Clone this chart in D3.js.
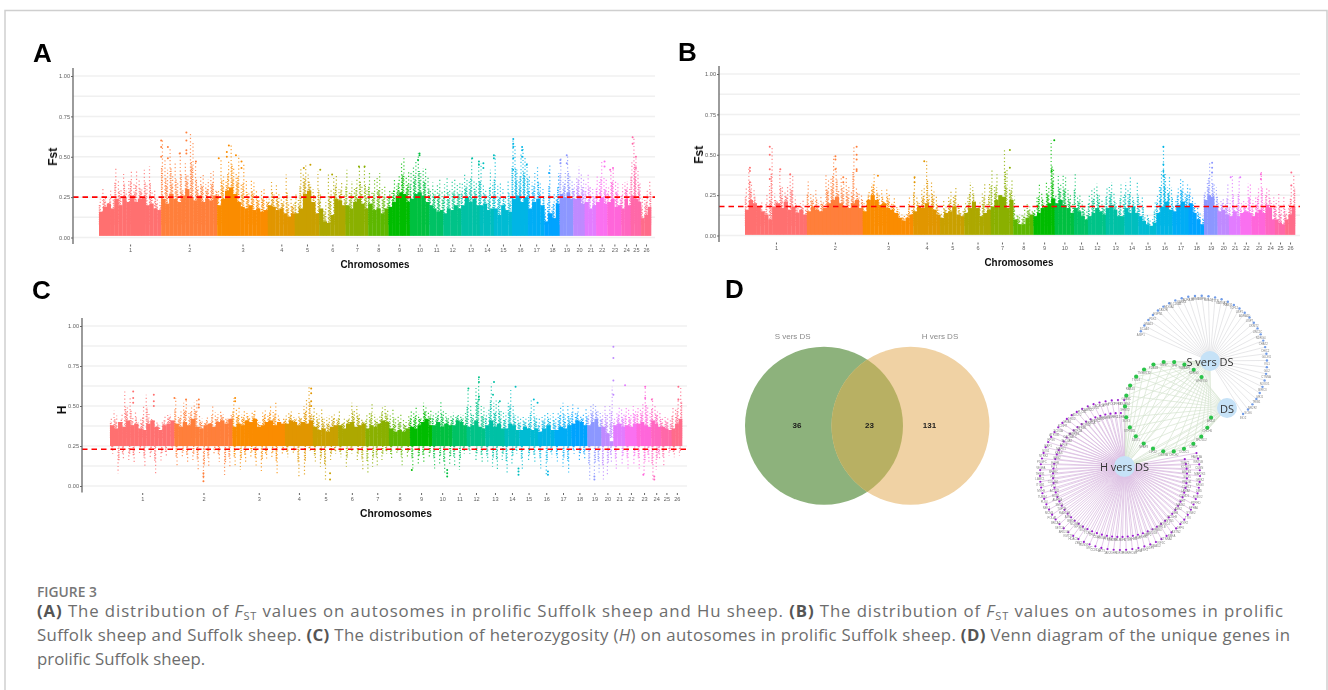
<!DOCTYPE html>
<html>
<head>
<meta charset="utf-8">
<title>Figure 3</title>
<script src="https://cdnjs.cloudflare.com/ajax/libs/d3/7.8.5/d3.min.js"></script>
<style>
  html, body { margin: 0; padding: 0; background: #fff; }
  svg { display: block; }
  text { font-family: "Liberation Sans", Arial, sans-serif; }
  .axis text { fill: #5f5f5f; font-size: 5.6px; }
  .axis line, .axis path { stroke: #666; }
  .caption { font-family: "Open Sans", sans-serif; font-size: 16.8px; fill: #6d6d6d; }
</style>
</head>
<body>
<svg id="chart" width="1328" height="690"></svg>
<script>
const chromosomes = d3.range(1, 27).map(String);
// sheep autosome lengths, Mb
const chromLengths = [275, 248, 224, 119, 108, 117, 100, 90, 94, 86, 62, 79, 83, 62, 80, 71, 72, 68, 60, 51, 50, 50, 62, 42, 45, 44];
const chromColors = ['#FF7070', '#FF7F3A', '#FA8C00', '#E19600', '#C9A000', '#ADA800', '#8AB000', '#5DB700', '#00BC00', '#00C040', '#00C265', '#00C388', '#00C1A5', '#00BEBE', '#00BBD3', '#00B5E5', '#00ADF5', '#00A3FF', '#8C97FF', '#BF8AFF', '#E27CFF', '#FA70F0', '#FF66DA', '#FF66C0', '#FF68A8', '#FF6C8A'];
const yTicks = [0, 25, 50, 75, 100];
const yGrid = [0, 12.5, 25, 37.5, 50, 62.5, 75, 87.5, 100];

// all values below are in hundredths (0.25 -> 25)
// solid part of the band, per chromosome
const bandA = [
  [16, 19, 21, 18, 24, 20, 25, 22, 26, 22, 24, 25, 20, 21, 18, 17],
  [24, 21, 27, 24, 22, 26, 30, 25, 23, 26, 22, 24, 23, 26],
  [20, 24, 29, 31, 27, 22, 19, 18, 20, 17, 18, 16, 17],
  [20, 19, 17, 18, 15, 13, 15], [15, 18, 27, 29, 22, 15], [18, 10, 9, 14, 24, 23, 20],
  [20, 18, 22, 24, 21, 18], [21, 17, 18, 15, 18], [19, 22, 26, 28, 27, 22],
  [24, 27, 28, 26, 22], [20, 18, 16, 17], [15, 18, 17, 20, 18], [20, 25, 22, 24, 20],
  [20, 21, 17, 18], [18, 14, 20, 17, 16], [24, 26, 22, 25], [18, 22, 24, 20],
  [10, 15, 12, 21], [27, 25, 28, 24], [24, 26, 21], [22, 18, 20], [22, 25, 21],
  [22, 24, 19, 20], [18, 24, 20], [26, 24, 22], [12, 14, 19]
];
const bandB = [
  [16, 22, 20, 18, 15, 13, 10, 18, 20, 17, 21, 16, 18, 14, 16, 13],
  [15, 18, 16, 15, 17, 20, 22, 24, 20, 18, 17, 20, 22, 17],
  [15, 22, 25, 22, 19, 20, 17, 16, 14, 11, 9, 11, 13],
  [15, 18, 17, 20, 18, 16, 13], [11, 14, 15, 18, 13, 12], [14, 17, 21, 17, 12, 14, 16],
  [18, 22, 25, 24, 17, 22], [10, 7, 7, 11, 13], [12, 14, 17, 18, 20, 23],
  [20, 22, 19, 17, 14], [17, 15, 12, 10], [12, 14, 17, 15, 13], [17, 19, 16, 12, 12],
  [17, 14, 18, 14], [12, 9, 7, 6, 8], [14, 18, 21, 16], [15, 19, 21, 18],
  [20, 14, 10, 7], [22, 25, 24, 18], [15, 16, 13], [12, 15, 12], [14, 15, 14],
  [12, 14, 16, 14], [19, 17, 10], [10, 8, 7], [10, 13, 18]
];
const bandC = [
  [38, 36, 40, 37, 41, 38, 39, 36, 35, 39, 41, 37, 35, 38, 39, 41],
  [39, 37, 40, 38, 42, 37, 36, 38, 39, 37, 40, 41, 39, 42],
  [37, 39, 38, 41, 40, 42, 37, 38, 40, 41, 38, 40, 39],
  [39, 41, 40, 38, 40, 39, 41], [37, 35, 36, 34, 37, 38], [38, 36, 39, 40, 37, 38, 39],
  [36, 38, 37, 39, 41, 40], [36, 34, 35, 34, 36], [37, 36, 38, 40, 42, 38],
  [38, 40, 37, 39, 38], [38, 41, 40, 38], [37, 38, 41, 37, 36], [38, 41, 37, 39, 36],
  [36, 39, 38, 35], [35, 37, 36, 35, 36], [34, 36, 38, 35], [35, 37, 36, 38],
  [39, 41, 40, 38], [38, 40, 42, 37], [37, 33, 28], [38, 39, 37], [38, 37, 39],
  [39, 40, 38, 37], [41, 39, 37], [37, 36, 35], [36, 39, 42]
];

// tallest dot in a stretch of the chromosome, left to right
const columnsA = [
  [24, 31, 26, 22, 29, 27, 43, 36, 30, 40, 29, 35, 42, 33, 42, 36, 31, 42, 33, 44, 28, 30, 25, 22],
  [60, 48, 42, 56, 38, 46, 35, 53, 30, 46, 39, 65, 60, 47, 33, 38, 40, 33, 36, 40, 41, 30],
  [30, 49, 38, 35, 48, 57, 44, 40, 51, 34, 46, 36, 28, 36, 34, 29, 26, 30, 30, 24],
  [24, 35, 28, 33, 27, 24, 26, 39, 22, 24, 22],
  [28, 24, 43, 40, 45, 39, 33, 30, 26, 41],
  [27, 18, 22, 39, 30, 38, 39, 30, 35, 26],
  [42, 28, 35, 30, 36, 44, 32, 45, 30],
  [40, 28, 36, 38, 40, 30, 32, 24],
  [30, 28, 36, 32, 39, 47, 49, 38, 42],
  [40, 44, 48, 52, 40, 43, 44, 37],
  [30, 34, 30, 33, 36, 28],
  [33, 37, 29, 35, 36, 33, 34],
  [34, 39, 37, 36, 49, 36, 34, 47],
  [46, 33, 30, 27, 42, 34],
  [51, 32, 34, 30, 25, 36, 25],
  [60, 58, 42, 35, 52, 56, 50, 46],
  [39, 34, 40, 44, 35, 30],
  [18, 22, 46, 20, 28, 26, 40],
  [50, 36, 40, 51, 38, 36],
  [33, 38, 44, 40, 36],
  [34, 39, 32, 30, 26],
  [38, 35, 47, 38, 36],
  [32, 42, 43, 36, 34, 27],
  [33, 34, 35, 30],
  [48, 62, 50, 42, 34],
  [24, 25, 30, 36]
];
const columnsB = [
  [30, 42, 33, 28, 20, 18, 22, 16, 26, 31, 55, 26, 22, 41, 30, 28, 30, 38, 38, 24, 18, 20, 22, 17],
  [35, 27, 25, 28, 20, 25, 22, 38, 34, 36, 49, 43, 28, 37, 32, 36, 30, 28, 55, 30, 27, 26],
  [20, 22, 28, 32, 38, 30, 25, 28, 22, 30, 26, 20, 24, 18, 16, 13, 12, 14, 25, 18],
  [36, 25, 20, 28, 31, 46, 26, 33, 28, 25, 16],
  [15, 22, 18, 24, 28, 25, 31, 20, 15, 16],
  [20, 25, 33, 30, 20, 18, 22, 26, 32, 20, 32],
  [41, 30, 38, 25, 24, 53, 41, 30, 34],
  [24, 14, 13, 13, 17, 20, 18, 16],
  [16, 24, 32, 27, 20, 33, 30, 59, 42],
  [26, 37, 32, 37, 36, 28, 26, 20],
  [38, 25, 26, 22, 18, 15],
  [26, 28, 30, 32, 26, 22, 20],
  [30, 30, 33, 26, 20, 18, 32, 24],
  [33, 28, 36, 25, 20, 34],
  [20, 25, 12, 14, 10, 10, 21],
  [26, 30, 40, 55, 38, 30, 36, 30],
  [18, 22, 30, 35, 34, 26, 32],
  [30, 24, 20, 18, 15, 12],
  [28, 34, 45, 40, 32, 30],
  [20, 22, 24, 20, 32],
  [22, 37, 18, 20, 37],
  [20, 22, 20, 32, 32],
  [22, 24, 30, 40, 20],
  [30, 28, 20, 25],
  [22, 26, 18, 24],
  [15, 20, 32, 38]
];
const columnsC = [
  [42, 47, 44, 40, 45, 59, 50, 55, 44, 46, 40, 42, 50, 57, 45, 42, 41, 40, 38, 40, 44, 46, 45, 40],
  [55, 44, 48, 52, 54, 46, 50, 52, 54, 45, 42, 40, 44, 41, 50, 46, 45, 47, 45, 43, 42, 45],
  [55, 48, 49, 45, 48, 46, 44, 46, 48, 42, 40, 46, 48, 44, 51, 47, 52, 44, 40, 42],
  [44, 46, 48, 43, 42, 47, 43, 50, 54, 62, 46],
  [50, 46, 44, 48, 42, 43, 44, 44, 46, 42],
  [47, 40, 42, 42, 44, 52, 48, 50, 46, 42, 40],
  [45, 46, 52, 45, 42, 44, 50, 50, 47],
  [44, 48, 42, 44, 45, 42, 40, 44],
  [47, 46, 50, 45, 43, 52, 50, 46, 48],
  [46, 46, 47, 53, 48, 46, 44, 45],
  [46, 44, 46, 45, 44, 46],
  [60, 50, 46, 62, 68, 50, 50],
  [46, 49, 64, 52, 54, 53, 48, 46],
  [46, 52, 60, 50, 44, 44],
  [42, 44, 42, 43, 54, 50, 44],
  [42, 44, 45, 46, 44, 46],
  [42, 46, 50, 52, 44, 50, 44],
  [52, 46, 50, 44, 46, 48],
  [46, 50, 52, 50, 48, 46],
  [46, 50, 46, 50, 62],
  [42, 46, 50, 48, 45],
  [50, 48, 46, 50, 48],
  [50, 48, 52, 62, 50, 46],
  [55, 50, 48, 46],
  [42, 44, 43, 42],
  [50, 48, 55, 62]
];
// lowest dot in a stretch, only panel C has this lower tail
const tailsC = [
  [20, 8, 16, 15, 14, 20, 12, 18, 8, 16, 18, 22],
  [12, 18, 14, 16, 10, 3, 12, 20, 15, 6, 12],
  [12, 10, 14, 18, 12, 9, 16, 18, 8, 20],
  [18, 20, 6, 7, 22],
  [14, 12, 4, 16, 20],
  [18, 12, 20, 16, 10],
  [8, 12, 13, 16, 20],
  [16, 20, 13, 18],
  [11, 13, 15, 17],
  [11, 14, 7, 13],
  [13, 10, 20],
  [20, 16, 15],
  [14, 12, 10, 16],
  [7, 14, 20],
  [10, 15, 14],
  [11, 7, 18],
  [14, 12, 8],
  [20, 16, 16],
  [4, 6, 8],
  [3, 6, 14],
  [10, 14],
  [11, 13],
  [11, 7, 15],
  [4, 10, 16],
  [12, 19],
  [18, 19]
];

// loose dots: [chromosome index, % along the chromosome, value]
const dotsA = [[1, 0, 60], [1, 0, 56], [1, 0, 50], [1, 12, 56], [1, 12, 49], [1, 33, 52], [1, 45, 65], [1, 45, 60], [1, 45, 54], [1, 45, 52], [1, 62, 47], [2, 3, 49], [2, 19, 50], [2, 19, 53], [2, 23, 57], [2, 37, 51], [2, 48, 47], [2, 48, 43], [4, 37, 43], [4, 64, 45], [5, 4, 42], [5, 49, 39], [6, 59, 44], [6, 84, 44], [9, 50, 52], [9, 50, 51], [9, 42, 48], [12, 59, 49], [12, 95, 47], [12, 95, 45], [13, 25, 43], [13, 25, 46], [13, 100, 51], [13, 100, 49], [15, 8, 61], [15, 8, 58], [15, 8, 56], [15, 8, 49], [15, 8, 42], [15, 63, 56], [15, 63, 54], [15, 63, 50], [15, 92, 45], [17, 31, 40], [18, 5, 48], [18, 5, 46], [18, 52, 51], [18, 52, 46], [21, 75, 47], [21, 75, 44], [22, 40, 43], [22, 20, 42], [24, 17, 62], [24, 17, 58], [24, 50, 50], [24, 50, 43]];
const dotsB = [[0, 40, 55], [0, 40, 50], [0, 40, 41], [0, 40, 35], [0, 8, 42], [0, 8, 40], [0, 8, 33], [0, 57, 41], [0, 73, 38], [1, 51, 49], [1, 51, 47], [1, 51, 41], [1, 89, 55], [1, 89, 50], [1, 89, 47], [1, 89, 41], [1, 89, 40], [1, 65, 36], [1, 65, 33], [2, 30, 37], [3, 41, 46], [3, 5, 36], [3, 5, 33], [6, 85, 53], [6, 85, 42], [8, 98, 59], [8, 85, 40], [15, 43, 55], [15, 43, 44], [15, 43, 40], [15, 43, 37], [18, 60, 45], [18, 60, 42], [18, 60, 39], [20, 15, 36], [20, 100, 36], [22, 67, 38], [22, 67, 35], [25, 63, 39], [25, 63, 31]];
const dotsC = [[0, 36, 59], [0, 36, 55], [0, 36, 52], [0, 68, 57], [0, 68, 53], [0, 68, 50], [1, 0, 55], [1, 20, 54], [1, 42, 54], [1, 42, 51], [1, 42, 49], [2, 5, 55], [2, 5, 53], [3, 94, 61], [3, 94, 58], [3, 94, 53], [3, 94, 50], [11, 66, 68], [11, 66, 65], [11, 66, 56], [11, 66, 54], [11, 9, 61], [12, 45, 65], [12, 40, 57], [12, 75, 53], [13, 75, 62], [14, 78, 54], [14, 98, 52], [19, 100, 87], [19, 100, 80], [19, 100, 66], [19, 100, 57], [20, 100, 63], [22, 58, 62], [22, 58, 55], [23, 5, 54], [25, 65, 62], [25, 65, 54], [18, 50, 4], [18, 50, 6], [9, 75, 6], [9, 75, 8], [9, 75, 10], [22, 45, 7], [23, 30, 4], [23, 30, 6], [15, 60, 7], [15, 60, 9], [13, 95, 7], [13, 95, 9], [13, 95, 11], [1, 50, 3], [1, 50, 6], [1, 50, 8], [4, 68, 4], [4, 68, 8], [8, 8, 10]];

// panel D
const vennSets = ['S vers DS', 'H vers DS'];
const vennCounts = [36, 23, 131];
const blueGenes = ['ASIP1', 'SCLA4', 'GNA13', 'PDK1', 'ESPN1', 'TAS2R', 'MDGA2', 'SLC16A3', 'KANK4', 'ADRA1B', 'GRM6', 'BMP8', 'SMAD9', 'CTTN', 'KATNA1', 'RAB31', 'TCF12', 'USP1', 'ADRA1D', 'USP7', 'CKMT2', 'UNC5C', 'NDRG4', 'CHAT2', 'CHIC2', 'GLDN1', 'VIL1', 'GLI2', 'CTNNA', 'NOXO1', 'BIRC3', 'MKI1', 'TRIB1', 'NR2F2', 'SOX6', 'INO2'];
const greenGenes = ['TPR', 'TUBA4P1', 'NDRG3', 'WHSY30', 'ARID2', 'CHCH6', 'SRD5D2', 'CMTP', 'DCDC1', 'CHCH2', 'OST3A', 'LIPZ2', 'NPAP3', 'DDO1', 'STP3B2L', 'SOX3', 'SHMT2', 'GNB3C', 'RAB43', 'TIGD3', 'TMEM132', 'PDE4B', 'GNG7'];
const purpleGenes = ['FAM13A', 'TSHZ2', 'WNT5B', 'KCNQ3', 'CUBN', 'ABCB1', 'MAP2K5', 'SOX5', 'GRIK2', 'PRKG1', 'NRG3', 'CDH13', 'DMD', 'LAMA2', 'ROBO2', 'CSMD1', 'PTPRD', 'FHIT', 'EPHA6', 'MAGI2', 'SYNE2', 'ANK2', 'TTN', 'NEB', 'RYR2', 'PCDH9', 'DPP6', 'CNTN5', 'ASTN2', 'EXOC4', 'NBEA', 'LRP1B', 'CTNNA2', 'ERBB4', 'KIF5C', 'MYO5B', 'SMAD2', 'BMP2', 'GDF9', 'FSHR', 'ESR1', 'PGR', 'INHA', 'INHBB', 'LHCGR', 'KITLG', 'FGF7', 'IGF1', 'IGF2R', 'PRLR', 'GHR', 'STAT5B', 'JAK2', 'PTEN', 'AKT3', 'FOXO1', 'CCND2', 'CDK6', 'MYC', 'TP63', 'RUNX1', 'TCF4', 'ZEB2', 'SOX6', 'HDAC9', 'EP300', 'KMT2C', 'NCOA2', 'ARID1B', 'BRD4', 'SETD2', 'ATM', 'BRCA2', 'RAD51B', 'POLA1', 'TOP2B', 'MCM3', 'SMC4', 'NEK1', 'AURKA', 'PLK4', 'BUB1', 'TUBB4', 'ACTN2', 'MYH9', 'VCL', 'ITGB1', 'COL4A1', 'LAMC1', 'FN1', 'THBS1', 'SPARC', 'VEGFA', 'FLT1', 'PDGFC', 'EGFR', 'NTRK2', 'GRB2', 'SOS1', 'KRAS', 'RAF1', 'MAPK1', 'RPS6', 'EIF4E', 'ATP2B1', 'SLC4A4', 'SCN1A', 'CACNA1C', 'KCNH7', 'GABRB3', 'GRIA1', 'HTR2A', 'DRD2', 'OPRM1', 'ADCY2', 'PDE4D', 'PLCB1', 'PRKCA', 'CAMK2D', 'NFATC2', 'ELOVL6', 'FASN', 'ACACA', 'PPARG', 'LEPR', 'INSR', 'PCK1', 'HK2', 'PFKP', 'LDHA', 'NDUFS4'];

const svg = d3.select('#chart');

const defs = svg.append('defs');
// the reference is a soft, downscaled raster
defs.append('filter').attr('id', 'soft').attr('x', '-5%').attr('y', '-5%').attr('width', '110%').attr('height', '110%')
  .append('feGaussianBlur').attr('stdDeviation', 0.45);
defs.append('filter').attr('id', 'softText').attr('x', '-5%').attr('y', '-5%').attr('width', '110%').attr('height', '110%')
  .append('feGaussianBlur').attr('stdDeviation', 0.25);

// journal frame, open at the bottom
svg.append('path').attr('d', 'M5,690V10.5H1327V690').attr('fill', 'none').attr('stroke', '#cfcfcf').attr('stroke-width', 1.5);

const chromStart = d3.cumsum([0].concat(chromLengths.slice(0, -1)));
const genomeLength = d3.sum(chromLengths);

function drawManhattan(p) {
  const x = d3.scaleLinear().domain([0, genomeLength]).range([p.x0, p.x1]);
  const y = d3.scaleLinear().domain([0, 100]).range([p.y0, p.y100]);
  const g = svg.append('g');

  g.selectAll('.grid').data(yGrid).join('line')
    .attr('x1', p.axisX).attr('x2', p.gridEnd)
    .attr('y1', y).attr('y2', y)
    .attr('stroke', '#f0f0f0').attr('stroke-width', 1.5);

  const marks = g.append('g').attr('filter', 'url(#soft)');

  chromosomes.forEach((name, c) => {
    const pos = d3.scaleLinear().domain([0, 1]).range([x(chromStart[c]), x(chromStart[c] + chromLengths[c])]);
    const color = chromColors[c];
    const band = p.band[c];
    const bandAt = t => band[Math.min(band.length - 1, Math.floor(t * band.length))];

    // each stretch: sparse dots up to its top, tighter ones over the lower part
    const column = (values, from, near) => {
      const at = i => pos((i + 0.5) / values.length);
      marks.append('g').selectAll('line').data(values).join('line')
        .attr('x1', (d, i) => at(i)).attr('x2', (d, i) => at(i))
        .attr('y1', y(from)).attr('y2', d => y(d))
        .attr('stroke', color).attr('stroke-width', 1.2).attr('opacity', 0.8)
        .attr('stroke-dasharray', '1.2,2.4')
        .attr('stroke-dashoffset', (d, i) => i * 1.7);
      marks.append('g').selectAll('line').data(values).join('line')
        .attr('x1', (d, i) => at(i) + (i % 2 ? 0.8 : -0.8)).attr('x2', (d, i) => at(i) + (i % 2 ? 0.8 : -0.8))
        .attr('y1', y(from)).attr('y2', (d, i) => y(near(i) + (d - near(i)) * 0.55))
        .attr('stroke', color).attr('stroke-width', 1.4).attr('opacity', 0.85)
        .attr('stroke-dasharray', '1.3,1')
        .attr('stroke-dashoffset', (d, i) => i * 0.9);
    };

    const cols = p.columns[c];
    column(cols, p.base, i => bandAt((i + 0.5) / cols.length));
    if (p.tails) column(p.tails[c], p.floor, () => p.floor);

    marks.append('g').selectAll('rect').data(band).join('rect')
      .attr('x', (d, i) => pos(i / band.length))
      .attr('width', pos(1 / band.length) - pos(0) + 0.3)
      .attr('y', d => y(d))
      .attr('height', d => y(p.floor) - y(d))
      .attr('fill', color);
  });

  marks.append('g').selectAll('circle').data(p.dots).join('circle')
    .attr('cx', d => x(chromStart[d[0]] + chromLengths[d[0]] * d[1] / 100))
    .attr('cy', d => y(d[2]))
    .attr('r', 1)
    .attr('fill', d => chromColors[d[0]]);

  g.append('line')
    .attr('x1', p.axisX).attr('x2', p.gridEnd)
    .attr('y1', y(p.threshold)).attr('y2', y(p.threshold))
    .attr('stroke', '#ff0000').attr('stroke-width', 1.6).attr('stroke-dasharray', '5.5,4');

  const yAxis = d3.axisLeft(y).tickValues(yTicks).tickFormat(d => (d / 100).toFixed(2)).tickSize(2).tickPadding(1);
  g.append('g').attr('class', 'axis').attr('filter', 'url(#softText)').attr('transform', `translate(${p.axisX},0)`).call(yAxis)
    .call(a => a.select('.domain').remove());
  g.append('line')
    .attr('x1', p.axisX).attr('x2', p.axisX).attr('y1', p.y100 - 8).attr('y2', p.y0 + 6.5)
    .attr('stroke', '#666').attr('stroke-width', 1.3);

  const mids = chromosomes.map((name, c) => chromStart[c] + chromLengths[c] / 2);
  const xAxis = d3.axisBottom(x).tickValues(mids).tickFormat((d, i) => chromosomes[i]).tickSize(2).tickPadding(2);
  g.append('g').attr('class', 'axis').attr('filter', 'url(#softText)').attr('transform', `translate(0,${p.y0 + 7})`).call(xAxis)
    .call(a => a.select('.domain').remove());

  const labels = g.append('g').attr('filter', 'url(#softText)');
  labels.append('text').attr('x', p.xLabelX).attr('y', p.y0 + 30.5).attr('text-anchor', 'middle')
    .attr('font-size', 11.5).attr('font-weight', 700).attr('fill', '#111')
    .attr('textLength', p.xLabelLen).attr('lengthAdjust', 'spacingAndGlyphs').text('Chromosomes');
  labels.append('text').attr('transform', `translate(${p.axisX - 16},${y(50) + p.yLabelShift}) rotate(-90)`)
    .attr('text-anchor', 'middle').attr('font-size', 12).attr('font-weight', 700).attr('fill', '#111').text(p.yLabel);
}

drawManhattan({ x0: 99, x1: 651, axisX: 73, gridEnd: 655, y0: 237.5, y100: 76, threshold: 25, floor: 1, base: 8, band: bandA, columns: columnsA, dots: dotsA, yLabel: 'Fst', yLabelShift: 0, xLabelX: 375, xLabelLen: 69 });
drawManhattan({ x0: 745, x1: 1295, axisX: 719, gridEnd: 1300, y0: 235.5, y100: 74, threshold: 18, floor: 0.4, base: 6, band: bandB, columns: columnsB, dots: dotsB, yLabel: 'Fst', yLabelShift: 0, xLabelX: 1019, xLabelLen: 69 });
drawManhattan({ x0: 110, x1: 682, axisX: 82, gridEnd: 687, y0: 486, y100: 326, threshold: 23, floor: 25, base: 30, band: bandC, columns: columnsC, tails: tailsC, dots: dotsC, yLabel: 'H', yLabelShift: 4, xLabelX: 396, xLabelLen: 72 });

// panel letters
const panelLetters = ['A', 'B', 'C', 'D'];
const letterX = d3.scaleOrdinal(panelLetters, [33, 678, 32, 725]);
const letterY = d3.scaleOrdinal(panelLetters, [62, 61, 299, 298]);
svg.selectAll('.letter').data(panelLetters).join('text')
  .attr('x', letterX).attr('y', letterY)
  .attr('font-size', 26).attr('font-weight', 700).attr('fill', '#000').text(d => d);

// venn
const vennR = 79;
const vennX = d3.scalePoint().domain(vennSets).range([824, 910.5]);
const vennY = 425.7;
const vennFill = ['#8DB27C', '#F0D2A4'];
defs.append('clipPath').attr('id', 'leftSet').append('circle')
  .attr('cx', vennX(vennSets[0])).attr('cy', vennY).attr('r', vennR);
svg.selectAll('.venn').data(vennSets).join('circle')
  .attr('cx', vennX).attr('cy', vennY).attr('r', vennR)
  .attr('fill', (d, i) => vennFill[i]);
svg.append('circle').attr('cx', vennX(vennSets[1])).attr('cy', vennY).attr('r', vennR)
  .attr('clip-path', 'url(#leftSet)').attr('fill', '#B8B063');
const vennText = svg.append('g').attr('filter', 'url(#softText)');
const vennLabelX = d3.scaleOrdinal(vennSets, [792.7, 940]);
vennText.append('g').selectAll('text').data(vennSets).join('text')
  .attr('x', vennLabelX).attr('y', 339).attr('text-anchor', 'middle')
  .attr('font-size', 8).attr('fill', '#8a8a8a').text(d => d);
const vennCountX = d3.scaleOrdinal([0, 1, 2], [797, 869.5, 929.5]);
vennText.append('g').selectAll('text').data(vennCounts).join('text')
  .attr('x', (d, i) => vennCountX(i)).attr('y', 428).attr('text-anchor', 'middle')
  .attr('font-size', 8).attr('font-weight', 700).attr('fill', '#1c1c1c').text(d => d);

// gene network
const hubS = [1210, 361], hubDS = [1227, 408], hubH = [1124.5, 466.5];
const rad = deg => deg * Math.PI / 180;
const net = svg.append('g').attr('filter', 'url(#soft)');

const blueAngle = d3.scaleLinear().domain([0, blueGenes.length - 1]).range([-152, 50]);
const blueNodes = blueGenes.map((name, i) => ({
  name,
  x: 1200 + 67 * Math.cos(rad(blueAngle(i))),
  y: 362.7 + 67 * Math.sin(rad(blueAngle(i)))
}));

// 26 slots on the ring, three on the right side are empty
const greenSlots = d3.range(26).filter(i => i < 4 || i > 6);
const greenAngle = d3.scaleLinear().domain([0, 25]).range([-82.8, 263.4]);
const greenNodes = greenGenes.map((name, i) => ({
  name,
  x: 1168.7 + 43.7 * Math.cos(rad(greenAngle(greenSlots[i]))),
  y: 406.7 + 45 * Math.sin(rad(greenAngle(greenSlots[i])))
}));

const purpleAngle = d3.scaleLinear().domain([0, purpleGenes.length - 1]).range([-17, 273]);
const purpleNodes = purpleGenes.map((name, i) => {
  const outer = i % 2 === 0;
  return {
    name,
    x: 1120 + (outer ? 80 : 67) * Math.cos(rad(purpleAngle(i))),
    y: 475 + (outer ? 75 : 62) * Math.sin(rad(purpleAngle(i)))
  };
});

const edges = (nodes, hub, color, width) => net.append('g').selectAll('line').data(nodes).join('line')
  .attr('x1', hub[0]).attr('y1', hub[1])
  .attr('x2', d => d.x).attr('y2', d => d.y)
  .attr('stroke', color).attr('stroke-width', width);

edges(greenNodes, hubS, '#d6e4d0', 0.7);
edges(greenNodes, hubH, '#d6e4d0', 0.7);
edges(greenNodes, hubDS, '#d6e4d0', 0.7);
edges(blueNodes, hubS, '#dcdde0', 0.7);
edges(purpleNodes, hubH, '#dcbfe2', 0.8);

const nodes = (list, color, r) => {
  const g = net.append('g');
  g.selectAll('circle').data(list).join('circle')
    .attr('cx', d => d.x).attr('cy', d => d.y).attr('r', r).attr('fill', color);
  g.selectAll('text').data(list).join('text')
    .attr('x', d => d.x).attr('y', d => d.y + 4.5)
    .attr('text-anchor', 'middle').attr('font-size', 2.8).attr('fill', '#808080').text(d => d.name);
};
nodes(blueNodes, '#6f9be8', 1.2);
nodes(purpleNodes, '#9b1fd0', 1.1);
nodes(greenNodes, '#2bc44a', 2.1);

const hubs = [['S vers DS', hubS, 10], ['DS', hubDS, 10], ['H vers DS', hubH, 10.5]];
net.append('g').selectAll('circle').data(hubs).join('circle')
  .attr('cx', d => d[1][0]).attr('cy', d => d[1][1]).attr('r', d => d[2]).attr('fill', '#c6e2f7');
net.append('g').selectAll('text').data(hubs).join('text')
  .attr('x', d => d[1][0]).attr('y', d => d[1][1] + 4.5)
  .attr('text-anchor', 'middle').attr('font-size', 11).attr('fill', '#333')
  .style('font-family', '"Open Sans", sans-serif').text(d => d[0]);

// caption
const captionLines = [
  { y: 616.5, len: 1246, parts: [['(A)', 1], [' The distribution of ', 0], ['F', 2], ['ST', 3], [' values on autosomes in prolific Suffolk sheep and Hu sheep. ', 0], ['(B)', 1], [' The distribution of ', 0], ['F', 2], ['ST', 3], [' values on autosomes in prolific', 0]] },
  { y: 640.5, len: 1253, parts: [['Suffolk sheep and Suffolk sheep. ', 0], ['(C)', 1], [' The distribution of heterozygosity (', 0], ['H', 2], [') on autosomes in prolific Suffolk sheep. ', 0], ['(D)', 1], [' Venn diagram of the unique genes in', 0]] },
  { y: 664.5, len: null, parts: [['prolific Suffolk sheep.', 0]] }
];
svg.append('text').attr('class', 'caption').attr('x', 37).attr('y', 596.5)
  .style('font-size', '13.8px').style('font-weight', 600).style('fill', '#777').text('FIGURE 3');
captionLines.forEach(line => {
  const t = svg.append('text').attr('class', 'caption').attr('x', 37).attr('y', line.y);
  if (line.len) t.attr('textLength', line.len).attr('lengthAdjust', 'spacing');
  let prevKind = 0;
  line.parts.forEach(([s, kind]) => {
    const span = t.append('tspan').text(s);
    if (kind === 1) span.style('font-weight', 700).style('fill', '#555');
    if (kind === 2) span.style('font-style', 'italic');
    if (kind === 3) span.attr('dy', 3).style('font-size', '11px');
    if (prevKind === 3) span.attr('dy', -3);
    prevKind = kind;
  });
});
</script>
</body>
</html>
